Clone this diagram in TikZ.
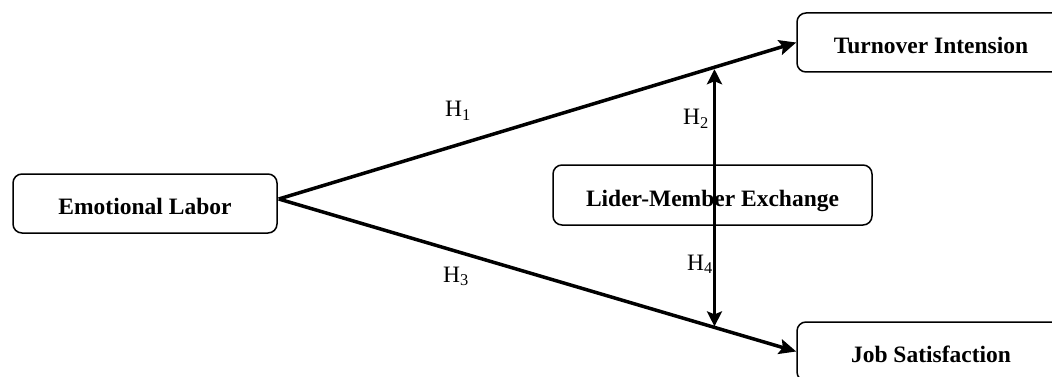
\documentclass[tikz,border=0pt]{standalone}
\usepackage{fontspec}
\setmainfont{Liberation Serif}
\usetikzlibrary{arrows.meta,calc}
\begin{document}
\begin{tikzpicture}[x=1pt,y=-1pt,
  box/.style={draw, line width=1.5pt, rounded corners=9pt, inner sep=0pt,
    font=\fontsize{23.5}{28}\selectfont\bfseries, text height=22pt, text depth=0pt},
  link/.style={line width=3.5pt, -{Stealth[length=17pt,width=15pt,inset=3pt]}},
  dbl/.style={line width=3.8pt, {Stealth[length=15pt,width=15pt,inset=3pt]}-{Stealth[length=15pt,width=15pt,inset=3pt]}},
  hlab/.style={font=\fontsize{23.5}{28}\selectfont, inner sep=0pt, anchor=base west}]
\useasboundingbox (0,0) rectangle (1052,377);
\node[box, minimum width=264pt, minimum height=59pt] (el) at (145,203.5) {Emotional Labor};
\node[box, minimum width=268pt, minimum height=59pt] (ti) at (931,42.5) {Turnover Intension};
\node[box, minimum width=268pt, minimum height=59pt] (js) at (931,351.5) {Job Satisfaction};
\node[box, minimum width=319pt, minimum height=60pt] (lmx) at (712.5,195) {Lider-Member Exchange};
\coordinate (a) at ($(el.east)+(1,-4.5)$);
\draw[link] (a) -- (ti.west);
\draw[link] (a) -- (js.west);
\coordinate (u) at ($(a)!0.842!(ti.west)$);
\coordinate (l) at ($(a)!0.842!(js.west)$);
\draw[dbl] ($(u)+(0,2)$) -- ($(l)+(0,-1)$);
\node[hlab] (h1) at (445,117) {H\textsubscript{1}};
\node[hlab] (h2) at (683,125) {H\textsubscript{2}};
\node[hlab] (h3) at (443,282) {H\textsubscript{3}};
\node[hlab] (h4) at (687,270) {H\textsubscript{4}};
\end{tikzpicture}
\end{document}
